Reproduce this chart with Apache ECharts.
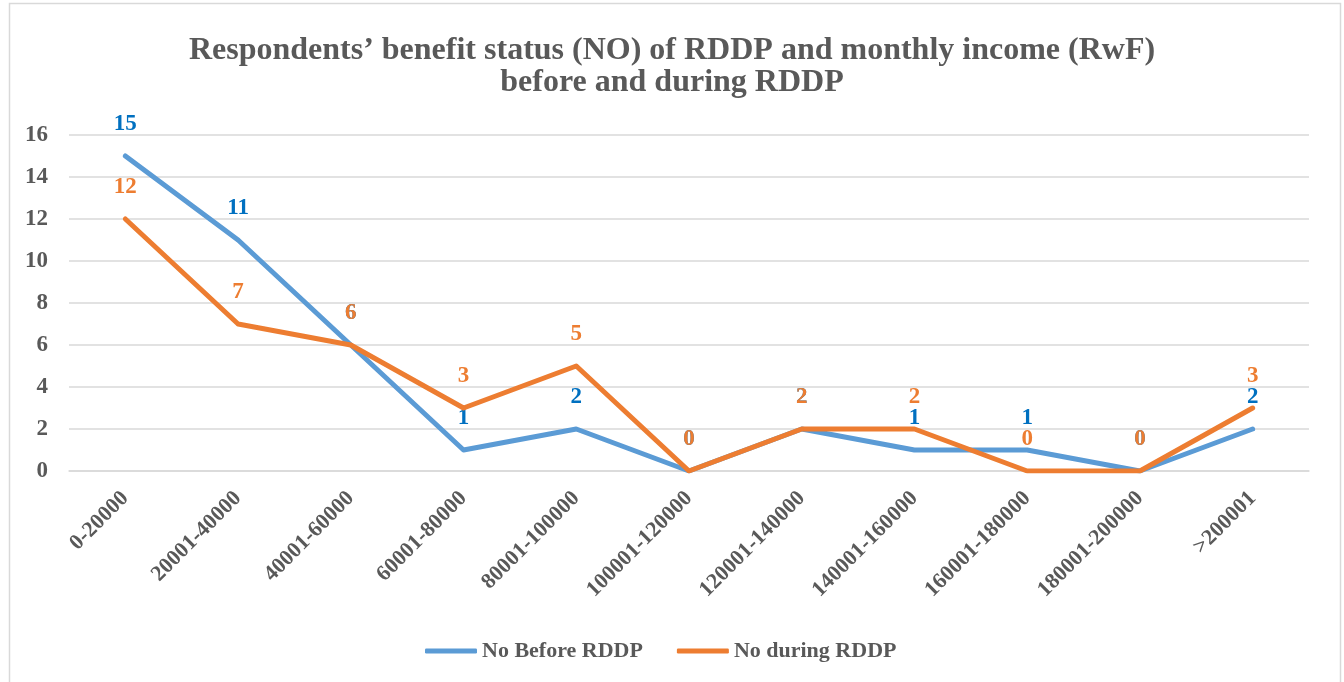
<!DOCTYPE html>
<html>
<head>
<meta charset="utf-8">
<script src="https://cdn.jsdelivr.net/npm/echarts@6/dist/echarts.min.js"></script>
<style>
html,body{margin:0;padding:0;background:#fff;}
#chart{width:1344px;height:682px;}
</style>
</head>
<body>
<div id="chart"></div>
<script>
const categories = ['0-20000','20001-40000','40001-60000','60001-80000','80001-100000','100001-120000','120001-140000','140001-160000','160001-180000','180001-200000','>200001'];
const beforeValues = [15, 11, 6, 1, 2, 0, 2, 1, 1, 0, 2];
const duringValues = [12, 7, 6, 3, 5, 0, 2, 2, 0, 0, 3];
const yTicks = [0, 2, 4, 6, 8, 10, 12, 14, 16];

const FONT = '"Liberation Serif", "Times New Roman", serif';
const chart = echarts.init(document.getElementById('chart'));
chart.setOption({
  backgroundColor: '#fff',
  animation: false,
  graphic: [{
    type: 'rect', left: 7, top: 1, shape: {width: 1331, height: 690},
    style: {fill: 'none', stroke: '#d9d9d9', lineWidth: 1.5}, silent: true
  }],
  title: {
    text: "Respondents’ benefit status (NO) of RDDP and monthly income (RwF)\nbefore and during RDDP",
    left: 'center', top: 30,
    textStyle: {fontFamily: FONT, fontWeight: 'bold', fontSize: 32, color: '#595959', lineHeight: 32}
  },
  legend: {
    bottom: 15, left: 420, itemWidth: 52, itemHeight: 5, itemGap: 34,
    icon: 'roundRect',
    textStyle: {fontFamily: FONT, fontWeight: 'bold', fontSize: 22, color: '#595959'},
    data: [
      {name: 'No Before RDDP', itemStyle: {color: '#5B9BD5'}},
      {name: 'No during RDDP', itemStyle: {color: '#ED7D31'}}
    ]
  },
  grid: {left: 69, right: 35, top: 135, bottom: 211, containLabel: false},
  xAxis: {
    type: 'category', data: categories, boundaryGap: true,
    axisLine: {show: true, lineStyle: {color: '#d9d9d9', width: 1.5}},
    axisTick: {show: false},
    axisLabel: {rotate: 45, interval: 0, margin: 24, fontFamily: FONT, fontWeight: 'bold', fontSize: 22, color: '#595959'}
  },
  yAxis: {
    type: 'value', min: yTicks[0], max: yTicks[yTicks.length - 1], interval: 2,
    axisLine: {show: false}, axisTick: {show: false},
    splitLine: {lineStyle: {color: '#d9d9d9', width: 1.5}},
    axisLabel: {margin: 21, fontFamily: FONT, fontWeight: 'bold', fontSize: 23, color: '#595959'}
  },
  series: [
    {
      name: 'No Before RDDP', type: 'line', data: beforeValues,
      symbol: 'circle', symbolSize: 4, showSymbol: true,
      lineStyle: {color: '#5B9BD5', width: 5, cap: 'round', join: 'round'},
      itemStyle: {color: '#5B9BD5'},
      label: {show: true, position: 'top', distance: 18, fontFamily: FONT, fontWeight: 'bold', fontSize: 23, color: '#0070C0'},
      labelLayout: {hideOverlap: false},
      z: 2
    },
    {
      name: 'No during RDDP', type: 'line', data: duringValues,
      symbol: 'circle', symbolSize: 4, showSymbol: true,
      lineStyle: {color: '#ED7D31', width: 5, cap: 'round', join: 'round'},
      itemStyle: {color: '#ED7D31'},
      label: {show: true, position: 'top', distance: 18, fontFamily: FONT, fontWeight: 'bold', fontSize: 23, color: '#ED7D31'},
      labelLayout: {hideOverlap: false},
      z: 3
    }
  ]
});
</script>
</body>
</html>
